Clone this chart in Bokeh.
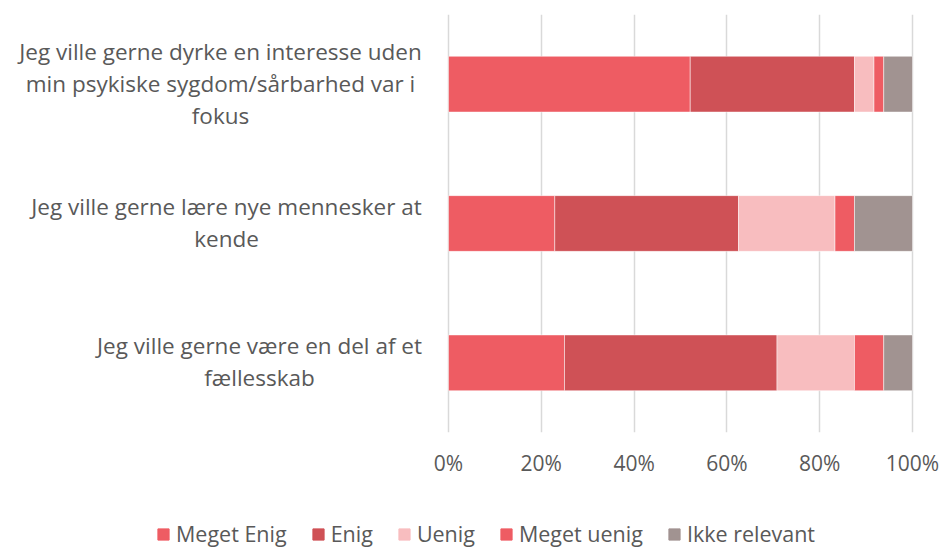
from bokeh.plotting import figure
from bokeh.layouts import column
from bokeh.models import FactorRange, Legend, LegendItem, PrintfTickFormatter, FixedTicker, ColumnDataSource
from bokeh.core.properties import value
from bokeh.embed import file_html
from bokeh.resources import INLINE

categories = [
    "Jeg ville gerne være en del af et fællesskab",
    "Jeg ville gerne lære nye mennesker at kende",
    "Jeg ville gerne dyrke en interesse uden min psykiske sygdom/sårbarhed var i fokus",
]
label_lines = [
    ["Jeg ville gerne være en del af et", "fællesskab"],
    ["Jeg ville gerne lære nye mennesker at", "kende"],
    ["Jeg ville gerne dyrke en interesse uden", "min psykiske sygdom/sårbarhed var i", "fokus"],
]
series_names = ["Meget Enig", "Enig", "Uenig", "Meget uenig", "Ikke relevant"]
meget_enig = [25.0, 22.9, 52.1]
enig = [45.8, 39.6, 35.4]
uenig = [16.7, 20.8, 4.2]
meget_uenig = [6.3, 4.2, 2.1]
ikke_relevant = [6.2, 12.5, 6.2]
x_ticks = [0, 20, 40, 60, 80, 100]

colors = ["#EE5C63", "#CF5156", "#F8BDBF", "#EE5C63", "#A19391"]
FONT = "Open Sans"
TXT = "#595959"

W = 942
H_CHART, H_LEG = 485, 64
PX_LEFT, PX_RIGHT = 448, 912          # where 0% and 100% fall (screen px)
scale = (PX_RIGHT - PX_LEFT) / 100.0
x_lo = -PX_LEFT / scale
x_hi = 100 + (W - PX_RIGHT) / scale

data = dict(cat=categories)
keys = ["s0", "s1", "s2", "s3", "s4"]
for k, v in zip(keys, [meget_enig, enig, uenig, meget_uenig, ikke_relevant]):
    data[k] = v

p = figure(width=W, height=H_CHART, y_range=FactorRange(factors=categories), x_range=(x_lo, x_hi),
           output_backend="svg", toolbar_location=None,
           min_border_left=0, min_border_right=0, min_border_top=14, min_border_bottom=53)
p.outline_line_color = None
p.hbar_stack(keys, y="cat", height=0.4, color=colors, source=ColumnDataSource(data),
             line_color="white", line_width=0.8, line_alpha=0.6)

p.yaxis.visible = False
p.ygrid.grid_line_color = None
p.xgrid.grid_line_color = "#D9D9D9"
p.xgrid.grid_line_width = 1.5
p.xaxis.ticker = FixedTicker(ticks=x_ticks)
p.xgrid.ticker = FixedTicker(ticks=x_ticks)
p.xaxis.formatter = PrintfTickFormatter(format="%d%%")
p.xaxis.axis_line_color = None
p.xaxis.major_tick_line_color = None
p.xaxis.minor_tick_line_color = None
p.xaxis.major_tick_out = 0
p.xaxis.minor_tick_out = 0
p.xaxis.major_label_standoff = 16
p.xaxis.major_label_text_font = FONT
p.xaxis.major_label_text_font_size = "21px"
p.xaxis.major_label_text_color = TXT

# category labels: centred lines, each block ending near the axis
centers = [259, 226, 220]
tx, ty, tt, xo, yo = [], [], [], [], []
for cat, lines, cx in zip(categories, label_lines, centers):
    n = len(lines)
    for i, line in enumerate(lines):
        tx.append(0)
        ty.append(cat)
        tt.append(line)
        xo.append(cx - PX_LEFT)
        yo.append((i - (n - 1) / 2) * 32 - 1)
src = ColumnDataSource(dict(x=tx, y=ty, text=tt, xo=xo, yo=yo))
p.text(x="x", y="y", text="text", x_offset="xo", y_offset="yo", source=src,
       text_align="center", text_baseline="middle", text_font=value(FONT),
       text_font_size="22.5px", text_color=TXT)

# legend strip (own figure so the legend is not clipped by the chart frame)
q = figure(width=W, height=H_LEG, y_range=FactorRange(factors=categories), x_range=(x_lo, x_hi),
           output_backend="svg", toolbar_location=None, x_axis_type=None, y_axis_type=None,
           min_border_left=0, min_border_right=0, min_border_top=0, min_border_bottom=0)
q.outline_line_color = None
q.xgrid.visible = False
q.ygrid.visible = False
leg_r = q.hbar_stack(keys, y="cat", height=0.4, color=colors, source=ColumnDataSource(data))
for r in leg_r:
    r.visible = False
items = [LegendItem(label=n, renderers=[r]) for n, r in zip(series_names, leg_r)]
legend = Legend(items=items, orientation="horizontal", location=(156, 1),
                label_text_font=FONT, label_text_font_size="21.5px", label_text_color=TXT,
                glyph_width=14, glyph_height=14, label_standoff=6, spacing=24,
                padding=0, margin=0, border_line_color=None, background_fill_alpha=0,
                inactive_fill_alpha=0)
q.add_layout(legend, "center")

layout = column(p, q, spacing=0)
open("out.html", "w").write(file_html(layout, INLINE))
